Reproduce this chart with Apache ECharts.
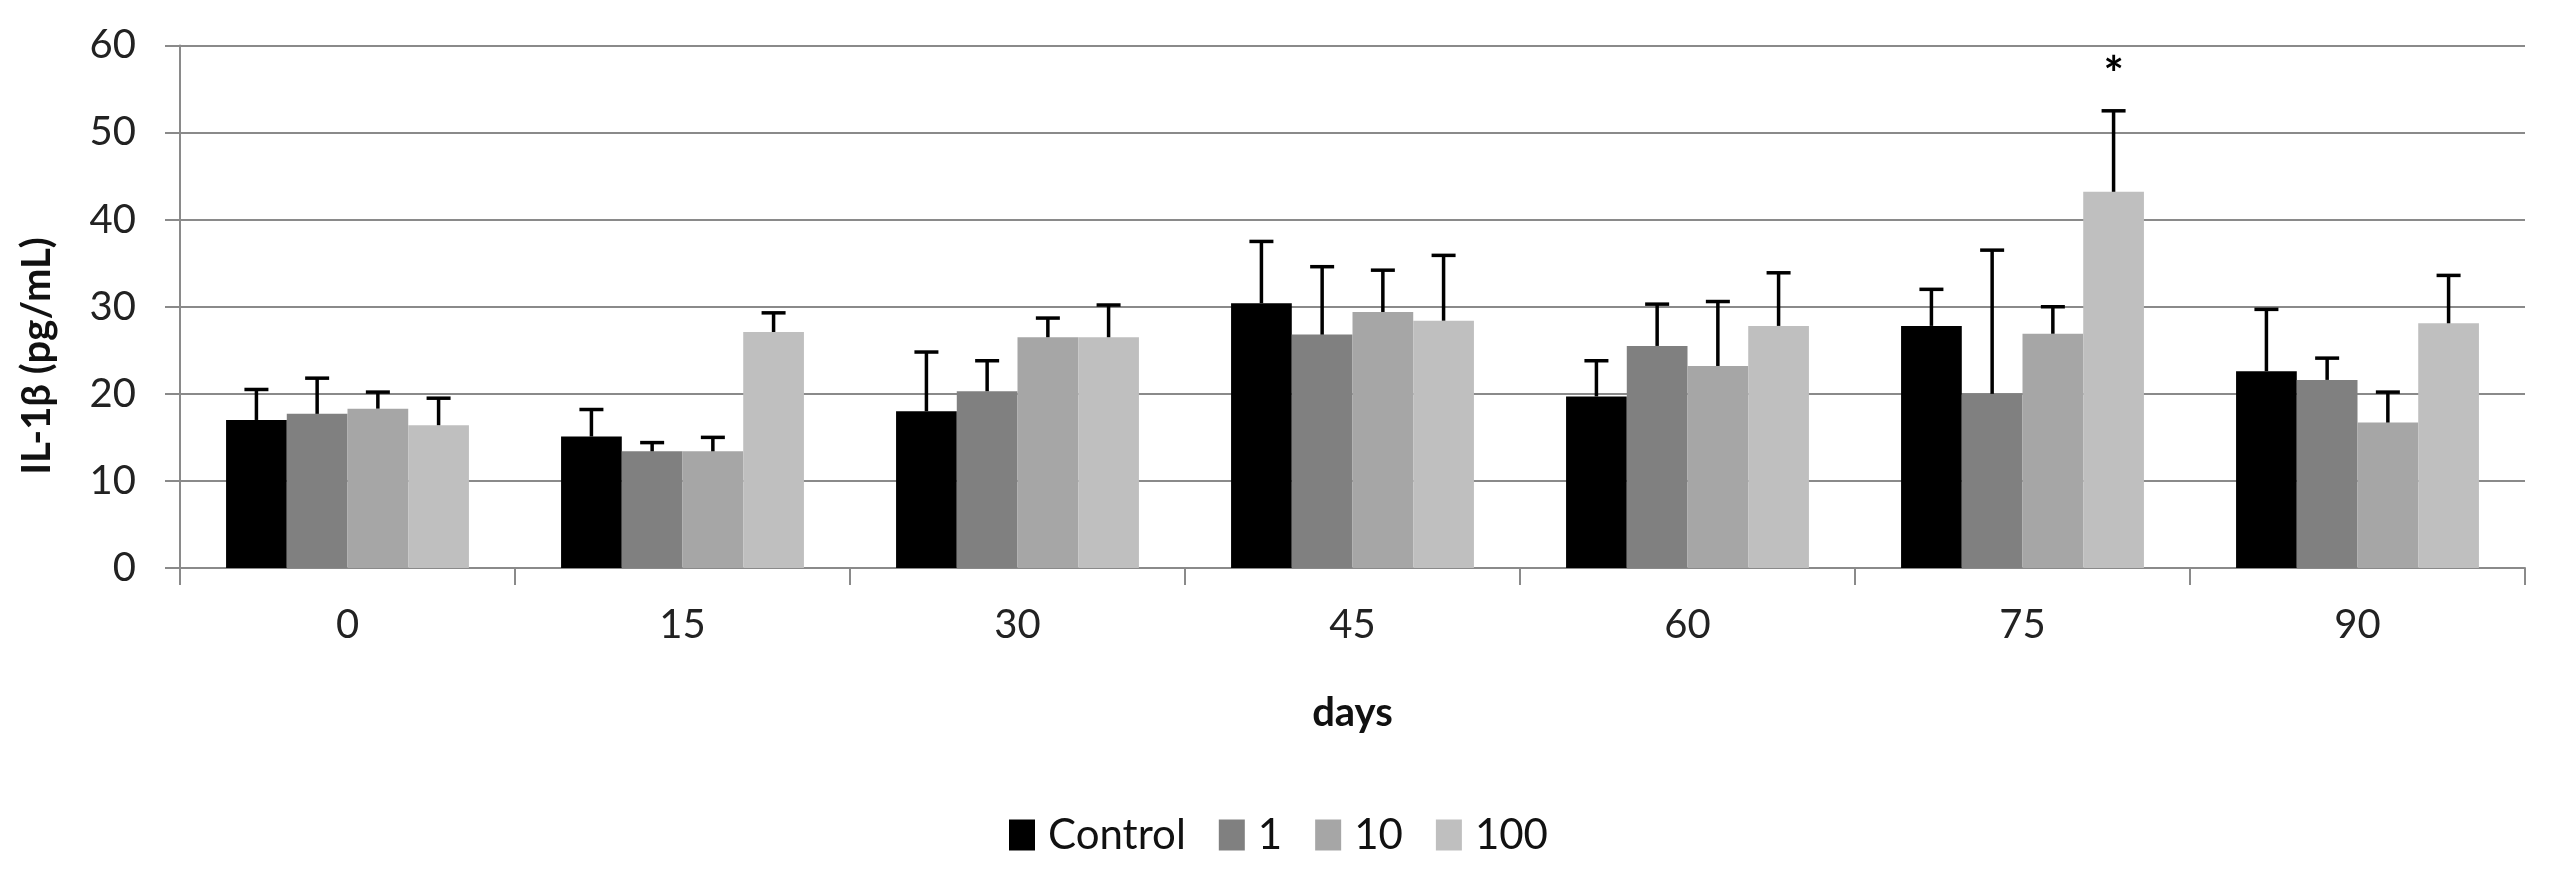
<!DOCTYPE html>
<html>
<head>
<meta charset="utf-8">
<title>IL-1β by day</title>
<script src="https://cdn.jsdelivr.net/npm/echarts@6/dist/echarts.min.js"></script>
<style>
  html, body { margin: 0; padding: 0; background: #fff; }
  #chart { width: 2555px; height: 869px; }
</style>
</head>
<body>
<div id="chart"></div>
<script>
const days = ["0", "15", "30", "45", "60", "75", "90"];
const groupNames = ["Control", "1", "10", "100"];
const groupColors = ["#000000", "#808080", "#a6a6a6", "#bfbfbf"];

// means, sd = upper error bar length
const controlMean = [17.0, 15.1, 18.0, 30.4, 19.7, 27.8, 22.6];
const controlSd = [3.5, 3.1, 6.8, 7.1, 4.1, 4.2, 7.1];
const dose1Mean = [17.7, 13.4, 20.3, 26.8, 25.5, 20.0, 21.6];
const dose1Sd = [4.1, 1.0, 3.5, 7.8, 4.8, 16.5, 2.5];
const dose10Mean = [18.3, 13.4, 26.5, 29.4, 23.2, 26.9, 16.7];
const dose10Sd = [1.9, 1.6, 2.2, 4.8, 7.4, 3.1, 3.5];
const dose100Mean = [16.4, 27.1, 26.5, 28.4, 27.8, 43.2, 28.1];
const dose100Sd = [3.1, 2.2, 3.7, 7.5, 6.1, 9.3, 5.5];

const yTicks = [0, 10, 20, 30, 40, 50, 60];
// significance marker: day index, group index, y position
const sigMarks = [{ day: 5, group: 3, y: 56.6, text: "*" }];

const means = [controlMean, dose1Mean, dose10Mean, dose100Mean];
const sds = [controlSd, dose1Sd, dose10Sd, dose100Sd];

const FONT = "Lato, 'Open Sans', sans-serif";
const GRID_GRAY = "#8a8a8a";
const CATEGORY_GAP = 0.275;

function errorBarSeries(groupIndex) {
  const data = means[groupIndex].map((m, i) => [i, m, m + sds[groupIndex][i]]);
  return {
    name: groupNames[groupIndex] + " sd",
    type: "custom",
    z: 5,
    silent: true,
    data: data,
    renderItem: (params, api) => {
      const i = api.value(0);
      const bandW = api.size([1, 0])[0];
      const barW = (bandW * (1 - CATEGORY_GAP)) / groupNames.length;
      const cx = api.coord([i, 0])[0] + (groupIndex - (groupNames.length - 1) / 2) * barW;
      const yBase = api.coord([i, api.value(1)])[1];
      const yTop = api.coord([i, api.value(2)])[1];
      const style = { stroke: "#000", lineWidth: 3.5 };
      return {
        type: "group",
        children: [
          { type: "line", shape: { x1: cx, y1: yBase, x2: cx, y2: yTop }, style: style },
          { type: "line", shape: { x1: cx - 12, y1: yTop, x2: cx + 12, y2: yTop }, style: style },
        ],
      };
    },
  };
}

function barSeries(groupIndex) {
  const marks = sigMarks.filter((s) => s.group === groupIndex);
  return {
    name: groupNames[groupIndex],
    type: "bar",
    data: means[groupIndex],
    barGap: "0%",
    barCategoryGap: CATEGORY_GAP * 100 + "%",
    itemStyle: { color: groupColors[groupIndex] },
    markPoint: marks.length
      ? {
          symbol: "circle",
          symbolSize: 0,
          silent: true,
          label: {
            show: true,
            position: "inside",
            color: "#000",
            fontFamily: FONT,
            fontWeight: "bold",
            fontSize: 48,
          },
          data: marks.map((s) => ({ coord: [s.day, s.y], value: s.text })),
        }
      : undefined,
  };
}

const chart = echarts.init(document.getElementById("chart"), null, { renderer: "canvas" });

chart.setOption({
  animation: false,
  backgroundColor: "#fff",
  grid: { left: 180, right: 30, top: 45.5, bottom: 301, containLabel: false },
  legend: {
    data: groupNames,
    left: 1004,
    top: 809,
    itemWidth: 26,
    itemHeight: 31,
    itemGap: 33,
    icon: "rect",
    textStyle: { fontFamily: FONT, fontSize: 42, color: "#111", padding: [0, 0, 0, 8] },
  },
  xAxis: {
    type: "category",
    data: days,
    name: "days",
    nameLocation: "middle",
    nameGap: 125,
    nameTextStyle: { fontFamily: FONT, fontWeight: "bold", fontSize: 40, color: "#111" },
    axisLine: { lineStyle: { color: GRID_GRAY, width: 2 } },
    axisTick: { show: true, length: 17, lineStyle: { color: GRID_GRAY, width: 2 } },
    axisLabel: { margin: 37, fontFamily: FONT, fontSize: 40, color: "#222" },
    splitLine: { show: false },
  },
  yAxis: {
    type: "value",
    min: yTicks[0],
    max: yTicks[yTicks.length - 1],
    interval: yTicks[1] - yTicks[0],
    axisLine: { show: true, lineStyle: { color: GRID_GRAY, width: 2 } },
    axisTick: { show: true, length: 15, lineStyle: { color: GRID_GRAY, width: 2 } },
    axisLabel: { margin: 44, fontFamily: FONT, fontSize: 40, color: "#222" },
    splitLine: { lineStyle: { color: GRID_GRAY, width: 2 } },
  },
  graphic: [
    {
      type: "text",
      x: 37,
      y: 356,
      rotation: Math.PI / 2,
      style: {
        text: "IL-1β (pg/mL)",
        font: "bold 40px " + FONT,
        fill: "#111",
        textAlign: "center",
        textVerticalAlign: "middle",
      },
    },
  ],
  series: [
    ...groupNames.map((_, k) => barSeries(k)),
    ...groupNames.map((_, k) => errorBarSeries(k)),
  ],
});
</script>
</body>
</html>
